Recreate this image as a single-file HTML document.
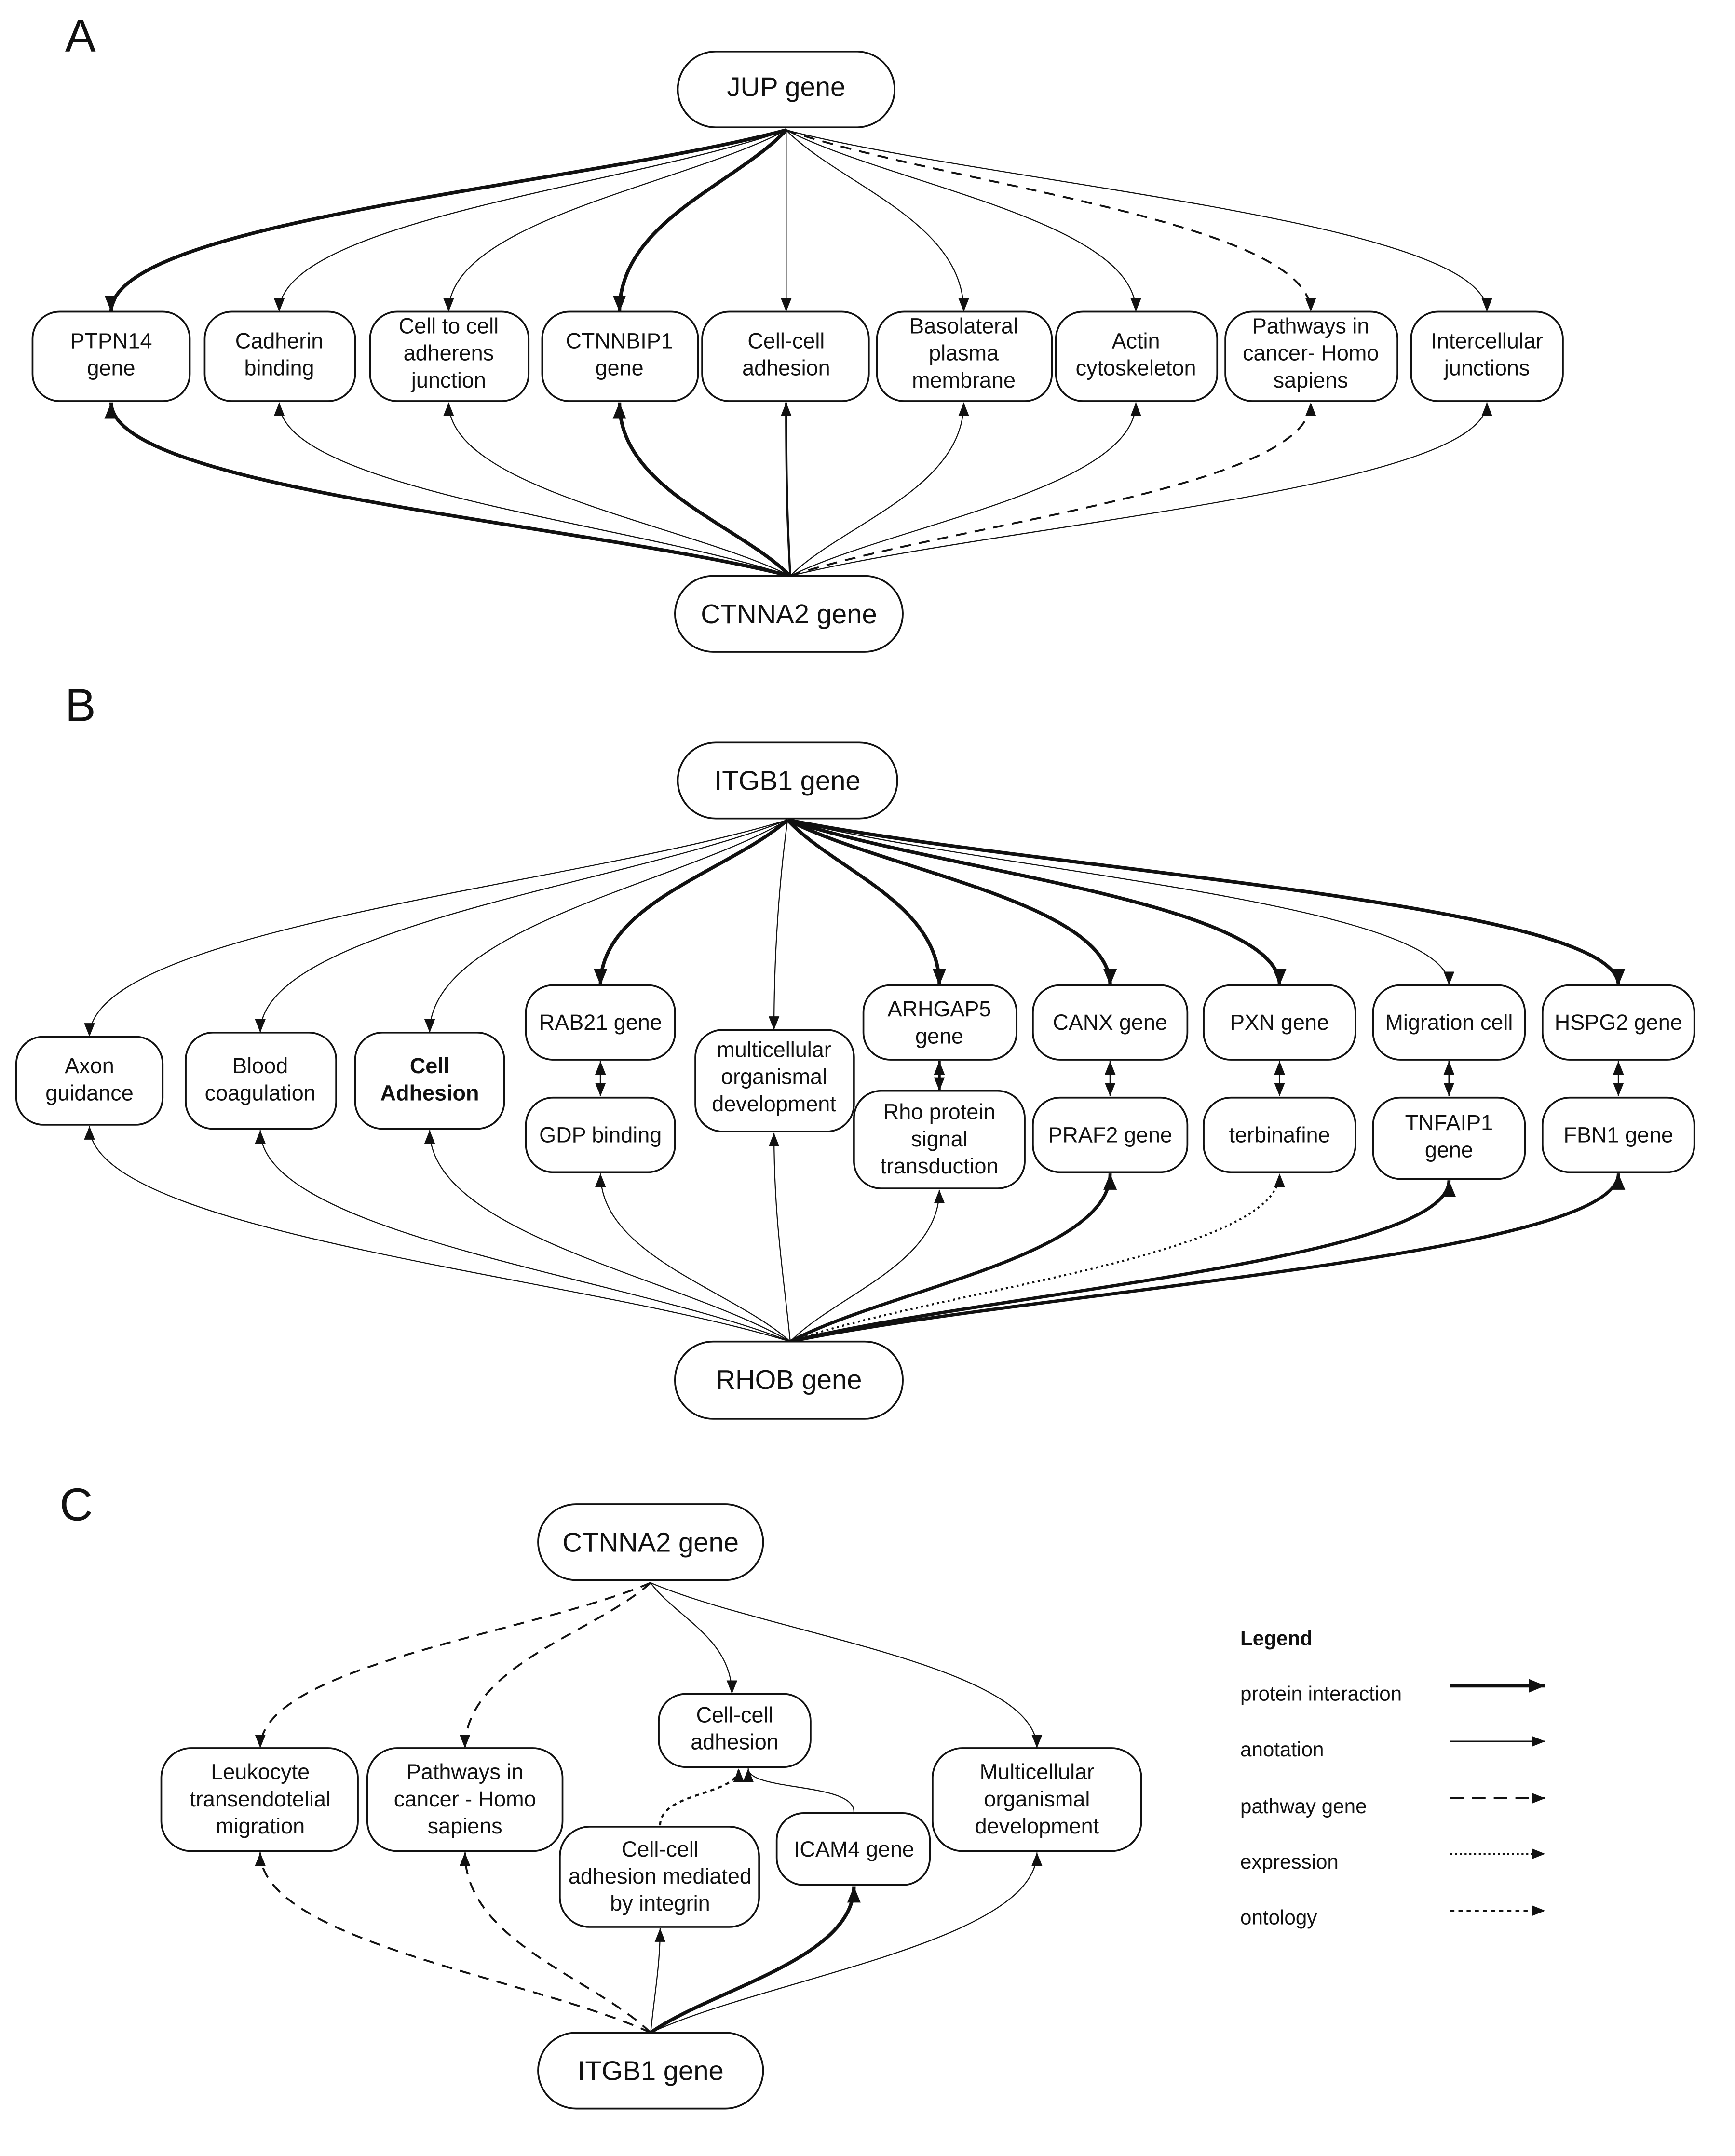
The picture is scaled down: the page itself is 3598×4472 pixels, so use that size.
<!DOCTYPE html>
<html><head><meta charset="utf-8"><style>
html,body{margin:0;padding:0;background:#fff}
svg{display:block}
text{font-family:"Liberation Sans",Arial,sans-serif;fill:#111}
</style></head><body>
<svg width="3598" height="4472" viewBox="0 0 1280 1591" preserveAspectRatio="none" xmlns="http://www.w3.org/2000/svg">
<defs>
<marker id="a" markerUnits="userSpaceOnUse" markerWidth="10" markerHeight="8" refX="10" refY="4" orient="auto-start-reverse"><path d="M0,0 L10,4 L0,8z" fill="#111"/></marker>
<marker id="b" markerUnits="userSpaceOnUse" markerWidth="12" markerHeight="10" refX="12" refY="5" orient="auto-start-reverse"><path d="M0,0 L12,5 L0,10z" fill="#111"/></marker>
</defs>
<rect width="1280" height="1591" fill="#fff"/>
<g font-size="34"><text x="48" y="38">A</text><text x="48" y="532">B</text><text x="44" y="1122">C</text></g>

<g fill="none" stroke="#111">
<!-- A top -->
<path d="M580,96 C431,136 82,163 82,230" stroke-width="2.6" marker-end="url(#b)"/>
<path d="M580,96 C468,136 206,163 206,230" stroke-width="0.8" marker-end="url(#a)"/>
<path d="M580,96 C505,136 331,163 331,230" stroke-width="0.8" marker-end="url(#a)"/>
<path d="M580,96 C543,136 457,163 457,230" stroke-width="2.6" marker-end="url(#b)"/>
<path d="M580,96 L580,230" stroke-width="0.8" marker-end="url(#a)"/>
<path d="M580,96 C619,136 711,163 711,230" stroke-width="0.8" marker-end="url(#a)"/>
<path d="M580,96 C657,136 838,163 838,230" stroke-width="0.8" marker-end="url(#a)"/>
<path d="M580,96 C696,136 967,163 967,230" stroke-width="1.4" stroke-dasharray="8,6" marker-end="url(#a)"/>
<path d="M580,96 C735,136 1097,163 1097,230" stroke-width="0.8" marker-end="url(#a)"/>
<!-- A bottom -->
<path d="M583,425 C433,387 82,361 82,297" stroke-width="2.6" marker-end="url(#b)"/>
<path d="M583,425 C470,387 206,361 206,297" stroke-width="0.8" marker-end="url(#a)"/>
<path d="M583,425 C507,387 331,361 331,297" stroke-width="0.8" marker-end="url(#a)"/>
<path d="M583,425 C545,387 457,361 457,297" stroke-width="2.6" marker-end="url(#b)"/>
<path d="M583,425 C581,387 580,361 580,297" stroke-width="1.6" marker-end="url(#a)"/>
<path d="M583,425 C621,387 711,361 711,297" stroke-width="0.8" marker-end="url(#a)"/>
<path d="M583,425 C660,387 838,361 838,297" stroke-width="0.8" marker-end="url(#a)"/>
<path d="M583,425 C698,387 967,361 967,297" stroke-width="1.4" stroke-dasharray="8,6" marker-end="url(#a)"/>
<path d="M583,425 C737,387 1097,361 1097,297" stroke-width="0.8" marker-end="url(#a)"/>
<!-- B top -->
<path d="M581,605 C427,653 66,685 66,765" stroke-width="0.8" marker-end="url(#a)"/>
<path d="M581,605 C464,652 192,684 192,762" stroke-width="0.8" marker-end="url(#a)"/>
<path d="M581,605 C502,652 317,684 317,762" stroke-width="0.8" marker-end="url(#a)"/>
<path d="M581,605 C540,642 443,666 443,727" stroke-width="2.6" marker-end="url(#b)"/>
<path d="M581,605 C575,650 571,700 571,760" stroke-width="0.8" marker-end="url(#a)"/>
<path d="M581,605 C615,642 693,666 693,727" stroke-width="2.6" marker-end="url(#b)"/>
<path d="M581,605 C652,642 819,666 819,727" stroke-width="2.6" marker-end="url(#b)"/>
<path d="M581,605 C690,642 944,666 944,727" stroke-width="2.6" marker-end="url(#b)"/>
<path d="M581,605 C727,642 1069,666 1069,727" stroke-width="0.8" marker-end="url(#a)"/>
<path d="M581,605 C765,642 1194,666 1194,727" stroke-width="2.6" marker-end="url(#b)"/>
<!-- B doubles -->
<path d="M443,783 L443,809" stroke-width="1" marker-start="url(#a)" marker-end="url(#a)"/>
<path d="M693,783 L693,805" stroke-width="2" marker-start="url(#a)" marker-end="url(#a)"/>
<path d="M819,783 L819,809" stroke-width="1" marker-start="url(#a)" marker-end="url(#a)"/>
<path d="M944,783 L944,809" stroke-width="1" marker-start="url(#a)" marker-end="url(#a)"/>
<path d="M1069,783 L1069,809" stroke-width="1" marker-start="url(#a)" marker-end="url(#a)"/>
<path d="M1194,783 L1194,809" stroke-width="1" marker-start="url(#a)" marker-end="url(#a)"/>
<!-- B bottom -->
<path d="M583,990 C428,942 66,910 66,831" stroke-width="0.8" marker-end="url(#a)"/>
<path d="M583,990 C466,943 192,911 192,834" stroke-width="0.8" marker-end="url(#a)"/>
<path d="M583,990 C503,943 317,911 317,834" stroke-width="0.8" marker-end="url(#a)"/>
<path d="M583,990 C541,952 443,927 443,866" stroke-width="0.8" marker-end="url(#a)"/>
<path d="M583,990 C578,940 571,900 571,836" stroke-width="0.8" marker-end="url(#a)"/>
<path d="M583,990 C616,956 693,933 693,878" stroke-width="0.8" marker-end="url(#a)"/>
<path d="M583,990 C654,952 819,927 819,866" stroke-width="2.4" marker-end="url(#b)"/>
<path d="M583,990 C691,952 944,927 944,866" stroke-width="1.5" stroke-dasharray="1.5,2.5" marker-end="url(#a)"/>
<path d="M583,990 C729,954 1069,930 1069,871" stroke-width="2.4" marker-end="url(#b)"/>
<path d="M583,990 C766,952 1194,927 1194,866" stroke-width="2.4" marker-end="url(#b)"/>
<!-- C top -->
<path d="M480,1168 C394,1205 192,1229 192,1290" stroke-width="1.4" stroke-dasharray="8,6" marker-end="url(#a)"/>
<path d="M480,1168 C439,1205 343,1229 343,1290" stroke-width="1.4" stroke-dasharray="8,6" marker-end="url(#a)"/>
<path d="M480,1168 C498,1193 540,1209 540,1250" stroke-width="0.8" marker-end="url(#a)"/>
<path d="M480,1168 C566,1205 765,1229 765,1290" stroke-width="0.8" marker-end="url(#a)"/>
<!-- C bottom -->
<path d="M480,1500 C394,1460 192,1433 192,1367" stroke-width="1.4" stroke-dasharray="8,6" marker-end="url(#a)"/>
<path d="M480,1500 C439,1460 343,1433 343,1367" stroke-width="1.4" stroke-dasharray="8,6" marker-end="url(#a)"/>
<path d="M480,1500 C483,1470 487,1450 487,1423" stroke-width="0.8" marker-end="url(#a)"/>
<path d="M480,1500 C525,1468 630,1446 630,1392" stroke-width="2.6" marker-end="url(#b)"/>
<path d="M480,1500 C566,1460 765,1433 765,1367" stroke-width="0.8" marker-end="url(#a)"/>
<path d="M487,1347 C487,1322 545,1325 545,1305" stroke-width="1.5" stroke-dasharray="3,3" marker-end="url(#a)"/>
<path d="M630,1337 C630,1315 552,1322 552,1305" stroke-width="0.8" marker-end="url(#a)"/>
<!-- legend -->
<path d="M1070,1244 L1140,1244" stroke-width="2.6" marker-end="url(#b)"/>
<path d="M1070,1285 L1140,1285" stroke-width="1" marker-end="url(#a)"/>
<path d="M1070,1327 L1140,1327" stroke-width="1.4" stroke-dasharray="10,6" marker-end="url(#a)"/>
<path d="M1070,1368 L1140,1368" stroke-width="1.4" stroke-dasharray="1.5,2" marker-end="url(#a)"/>
<path d="M1070,1410 L1140,1410" stroke-width="1.4" stroke-dasharray="3,3" marker-end="url(#a)"/>
</g>

<!-- nodes -->
<g fill="#fff" stroke="#111" stroke-width="1.3">
<rect x="500" y="38" width="160" height="56" rx="28"/>
<rect x="24" y="230" width="116" height="66" rx="20"/>
<rect x="151" y="230" width="111" height="66" rx="20"/>
<rect x="273" y="230" width="117" height="66" rx="20"/>
<rect x="400" y="230" width="115" height="66" rx="20"/>
<rect x="518" y="230" width="123" height="66" rx="20"/>
<rect x="647" y="230" width="129" height="66" rx="20"/>
<rect x="779" y="230" width="119" height="66" rx="20"/>
<rect x="904" y="230" width="127" height="66" rx="20"/>
<rect x="1041" y="230" width="112" height="66" rx="20"/>
<rect x="498" y="425" width="168" height="56" rx="28"/>

<rect x="500" y="548" width="162" height="56" rx="28"/>
<rect x="12" y="765" width="108" height="65" rx="20"/>
<rect x="137" y="762" width="111" height="71" rx="20"/>
<rect x="262" y="762" width="110" height="71" rx="20"/>
<rect x="388" y="727" width="110" height="55" rx="20"/>
<rect x="513" y="760" width="117" height="75" rx="20"/>
<rect x="637" y="727" width="113" height="55" rx="20"/>
<rect x="762" y="727" width="114" height="55" rx="20"/>
<rect x="888" y="727" width="112" height="55" rx="20"/>
<rect x="1013" y="727" width="112" height="55" rx="20"/>
<rect x="1138" y="727" width="112" height="55" rx="20"/>
<rect x="388" y="810" width="110" height="55" rx="20"/>
<rect x="630" y="805" width="126" height="72" rx="20"/>
<rect x="762" y="810" width="114" height="55" rx="20"/>
<rect x="888" y="810" width="112" height="55" rx="20"/>
<rect x="1013" y="810" width="112" height="60" rx="20"/>
<rect x="1138" y="810" width="112" height="55" rx="20"/>
<rect x="498" y="990" width="168" height="57" rx="28"/>

<rect x="397" y="1110" width="166" height="56" rx="28"/>
<rect x="486" y="1250" width="112" height="54" rx="20"/>
<rect x="119" y="1290" width="145" height="76" rx="22"/>
<rect x="271" y="1290" width="144" height="76" rx="22"/>
<rect x="688" y="1290" width="154" height="76" rx="22"/>
<rect x="413" y="1348" width="147" height="74" rx="22"/>
<rect x="573" y="1338" width="113" height="53" rx="20"/>
<rect x="397" y="1500" width="166" height="56" rx="28"/>
</g>

<g font-size="16" text-anchor="middle">
<text x="580" y="71" font-size="20">JUP gene</text>
<text x="82" y="257">PTPN14<tspan x="82" dy="20">gene</tspan></text>
<text x="206" y="257">Cadherin<tspan x="206" dy="20">binding</tspan></text>
<text x="331" y="246">Cell to cell<tspan x="331" dy="20">adherens</tspan><tspan x="331" dy="20">junction</tspan></text>
<text x="457" y="257">CTNNBIP1<tspan x="457" dy="20">gene</tspan></text>
<text x="580" y="257">Cell-cell<tspan x="580" dy="20">adhesion</tspan></text>
<text x="711" y="246">Basolateral<tspan x="711" dy="20">plasma</tspan><tspan x="711" dy="20">membrane</tspan></text>
<text x="838" y="257">Actin<tspan x="838" dy="20">cytoskeleton</tspan></text>
<text x="967" y="246">Pathways in<tspan x="967" dy="20">cancer- Homo</tspan><tspan x="967" dy="20">sapiens</tspan></text>
<text x="1097" y="257">Intercellular<tspan x="1097" dy="20">junctions</tspan></text>
<text x="582" y="460" font-size="20">CTNNA2 gene</text>

<text x="581" y="583" font-size="20">ITGB1 gene</text>
<text x="66" y="792">Axon<tspan x="66" dy="20">guidance</tspan></text>
<text x="192" y="792">Blood<tspan x="192" dy="20">coagulation</tspan></text>
<text x="317" y="792" font-weight="bold">Cell<tspan x="317" dy="20">Adhesion</tspan></text>
<text x="443" y="760">RAB21 gene</text>
<text x="571" y="780">multicellular<tspan x="571" dy="20">organismal</tspan><tspan x="571" dy="20">development</tspan></text>
<text x="693" y="750">ARHGAP5<tspan x="693" dy="20">gene</tspan></text>
<text x="819" y="760">CANX gene</text>
<text x="944" y="760">PXN gene</text>
<text x="1069" y="760">Migration cell</text>
<text x="1194" y="760">HSPG2 gene</text>
<text x="443" y="843">GDP binding</text>
<text x="693" y="826">Rho protein<tspan x="693" dy="20">signal</tspan><tspan x="693" dy="20">transduction</tspan></text>
<text x="819" y="843">PRAF2 gene</text>
<text x="944" y="843">terbinafine</text>
<text x="1069" y="834">TNFAIP1<tspan x="1069" dy="20">gene</tspan></text>
<text x="1194" y="843">FBN1 gene</text>
<text x="582" y="1025" font-size="20">RHOB gene</text>

<text x="480" y="1145" font-size="20">CTNNA2 gene</text>
<text x="542" y="1271">Cell-cell<tspan x="542" dy="20">adhesion</tspan></text>
<text x="192" y="1313">Leukocyte<tspan x="192" dy="20">transendotelial</tspan><tspan x="192" dy="20">migration</tspan></text>
<text x="343" y="1313">Pathways in<tspan x="343" dy="20">cancer - Homo</tspan><tspan x="343" dy="20">sapiens</tspan></text>
<text x="765" y="1313">Multicellular<tspan x="765" dy="20">organismal</tspan><tspan x="765" dy="20">development</tspan></text>
<text x="487" y="1370">Cell-cell<tspan x="487" dy="20">adhesion mediated</tspan><tspan x="487" dy="20">by integrin</tspan></text>
<text x="630" y="1370">ICAM4 gene</text>
<text x="480" y="1535" font-size="20">ITGB1 gene</text>
</g>
<g font-size="15">
<text x="915" y="1214" font-weight="bold">Legend</text>
<text x="915" y="1255">protein interaction</text>
<text x="915" y="1296">anotation</text>
<text x="915" y="1338">pathway gene</text>
<text x="915" y="1379">expression</text>
<text x="915" y="1420">ontology</text>
</g>
</svg>
</body></html>
